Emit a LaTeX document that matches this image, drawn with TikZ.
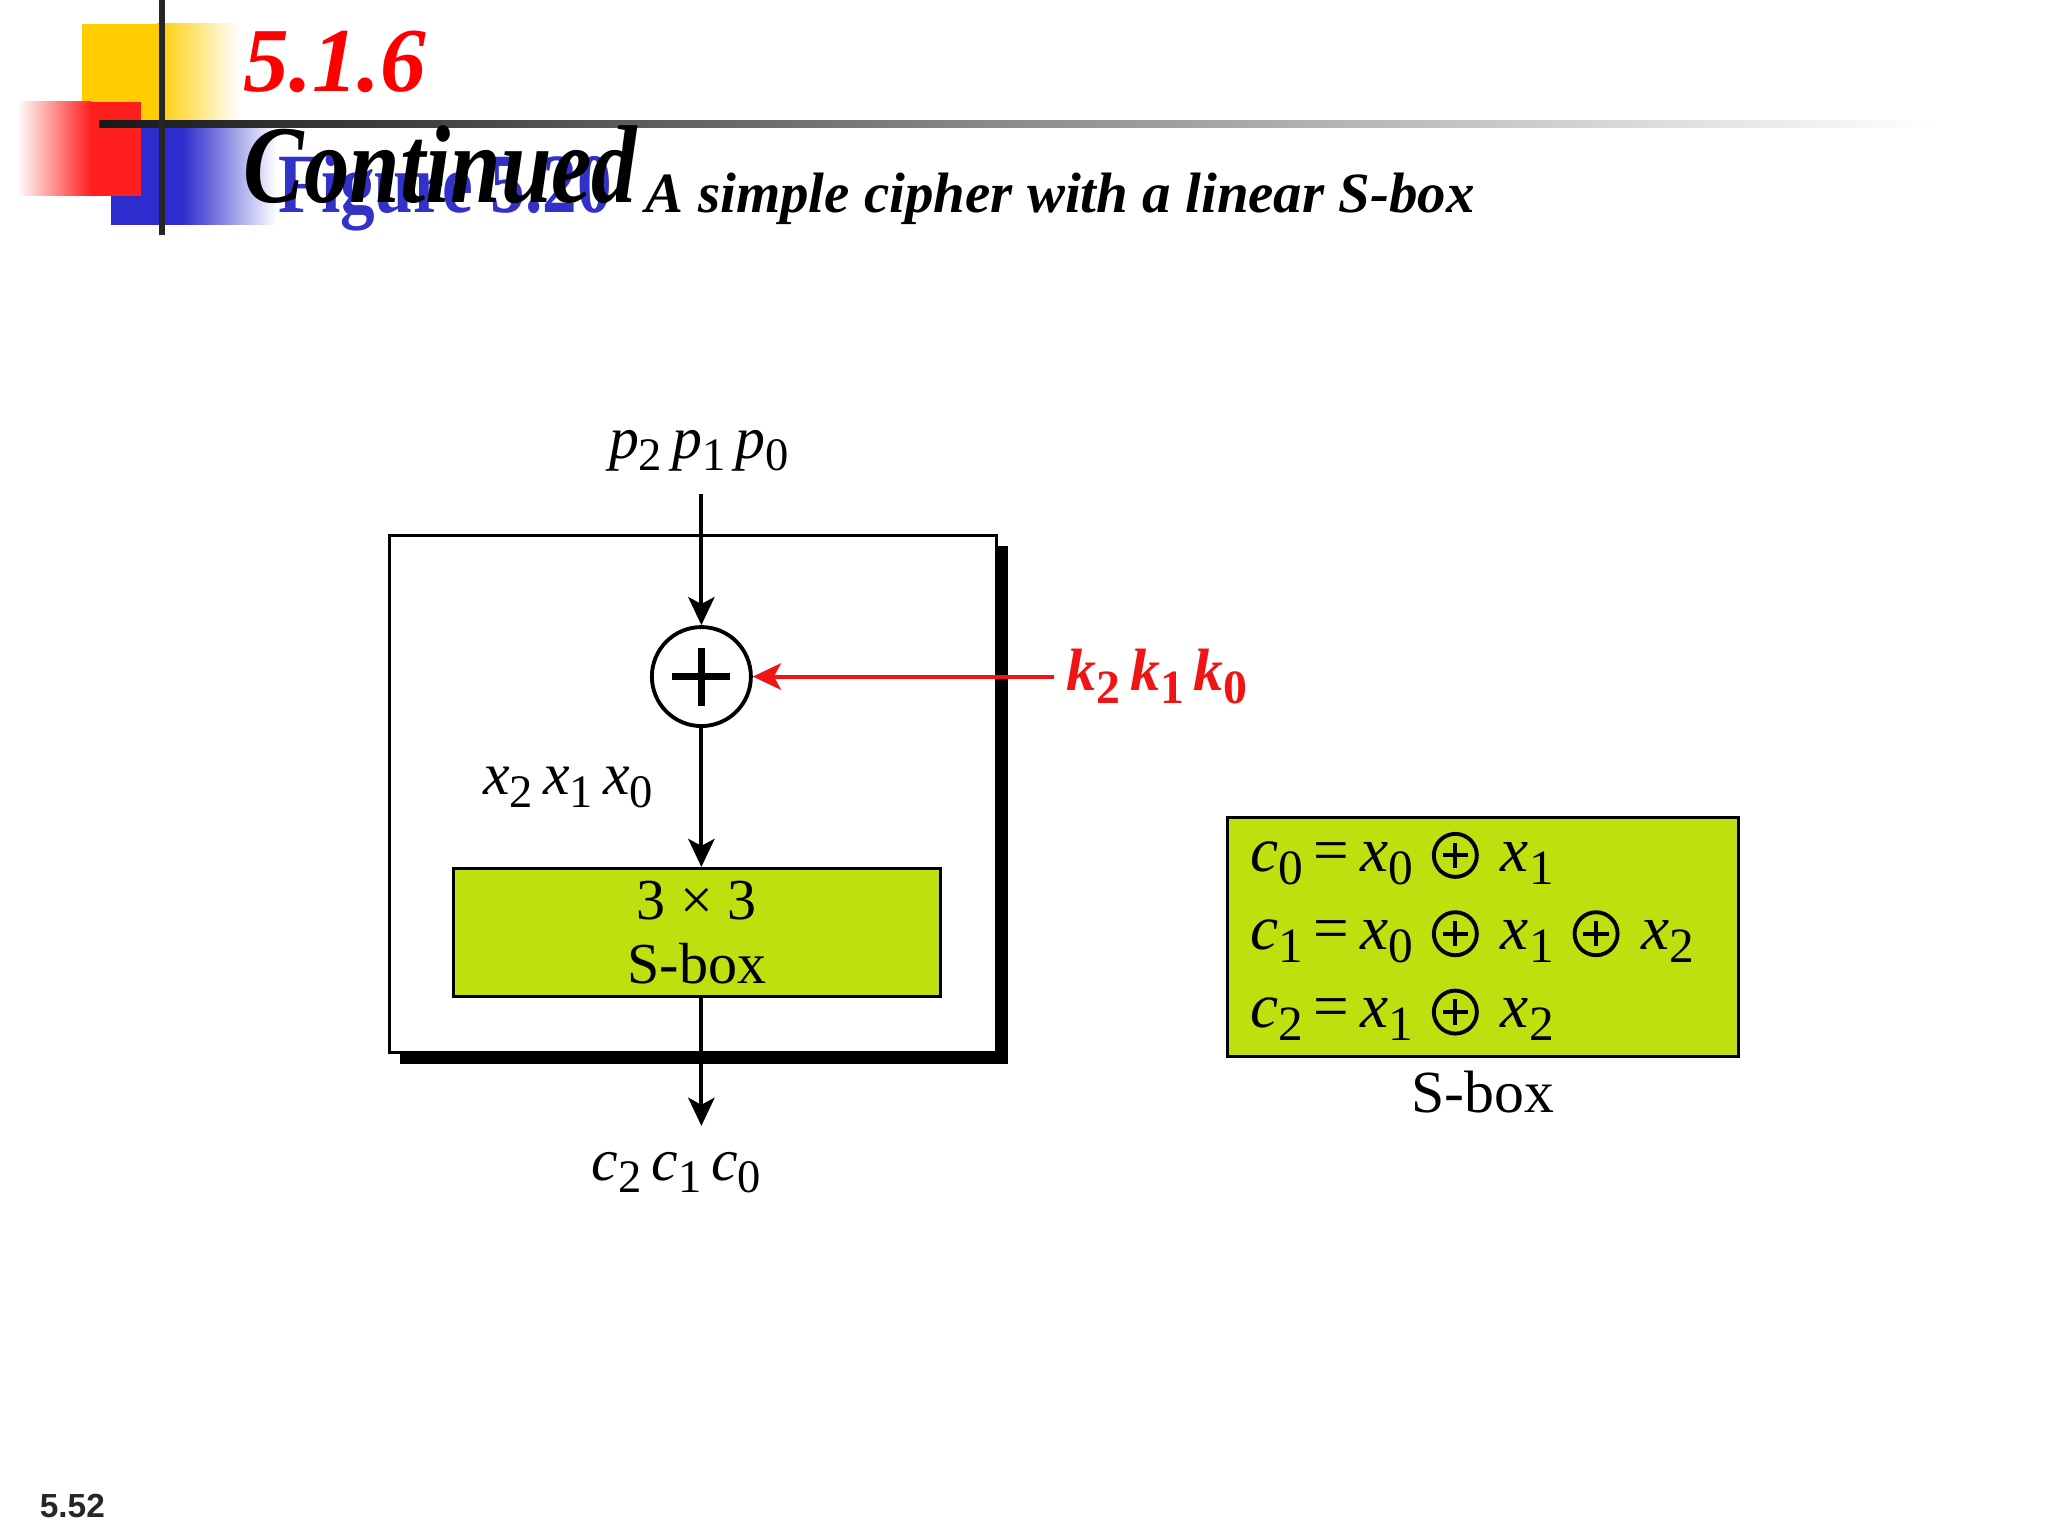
\documentclass[tikz,border=0pt]{standalone}
\usepackage{fontspec}
\usepackage{graphicx}
\setmainfont{Liberation Serif}
\newfontfamily\sansbold{Liberation Sans}
\newfontfamily\narrowserif[FakeStretch=0.82]{Liberation Serif}
\usetikzlibrary{arrows.meta}
\usetikzlibrary{positioning}

\definecolor{sboxlime}{RGB}{190,224,14}
\definecolor{keyred}{RGB}{240,20,20}
\definecolor{figblue}{RGB}{50,50,200}
\definecolor{sqyellow}{RGB}{255,204,0}
\definecolor{sqred}{RGB}{255,30,30}
\definecolor{sqblue}{RGB}{45,45,205}

\newcommand{\bit}[2]{\textit{#1}\raisebox{-0.45ex}{\scalebox{0.78}{#2}}}
\newcommand{\kbit}[2]{\textbf{\textit{#1}\raisebox{-0.45ex}{\scalebox{0.8}{#2}}}}
\newcommand{\oplusmark}{\hspace{0.3em}\tikz[baseline=-0.25em]{%
    \draw[line width=1.1pt] (0pt,0pt) circle (0.34em);
    \draw[line width=1.1pt] (-0.2em,0pt) -- (0.2em,0pt) (0pt,-0.2em) -- (0pt,0.2em);}\hspace{0.35em}}

\begin{document}
\begin{tikzpicture}[x=0.013061cm, y=-0.013061cm,
    every node/.style={font=\fontsize{17}{18}\selectfont},
    title/.style={anchor=base west, inner sep=0pt},
    flow/.style={line width=1.1pt, -{Stealth[length=8pt, width=7.5pt, inset=2pt]}},
    lime box/.style={draw, line width=0.9pt, fill=sboxlime},
    xor/.style={draw, circle, line width=1.1pt, minimum size=0.99cm, fill=white},
    eqline/.style={anchor=base west, inner sep=0pt, font=\fontsize{18}{20}\selectfont}]

    \fill[white] (0,0) rectangle (1568,1176);
    \useasboundingbox (0,0) rectangle (1568,1176);

    % corner squares
    \fill[sqyellow] (63,18) rectangle (120,95);
    \shade[left color=sqyellow, right color=white] (120,18) rectangle (183,95);
    \fill[sqblue] (85,95) rectangle (140,172);
    \shade[left color=sqblue, right color=white] (140,95) rectangle (212,172);
    \shade[left color=white, right color=sqred] (13,78) rectangle (70,150);
    \fill[sqred] (70,78) rectangle (108,150);
    \shade[left color=black!90, right color=white] (76,92) rectangle (1480,98);
    \draw[line width=1.5pt, black!85] (124,0) -- (124,180);

    % headings
    \node[title, text=red, font=\fontsize{26}{30}\selectfont\bfseries\itshape] (secnum) at (186,70) {5.1.6};
    \node[title, text=figblue, font=\narrowserif\fontsize{24}{28}\selectfont\bfseries] (fignum) at (213,163) {Figure 5.20};
    \node[title, font=\narrowserif\fontsize{31.5}{34}\selectfont\bfseries\itshape] (cont) at (186,155) {Continued};
    \node[title, font=\fontsize{16.2}{20}\selectfont\bfseries\itshape] (figcap) at (494,163) {A simple cipher with a linear S-box};

    % cipher frame with shadow
    \fill (306,418) rectangle (772,815);
    \draw[line width=0.9pt, fill=white] (298,410) rectangle (763,806);

    \node (plain) at (535,345) {\bit{p}{2}\,\bit{p}{1}\,\bit{p}{0}};
    \node[xor] (xor) at (537,518) {};
    \draw[line width=1.8pt] ([xshift=-0.29cm]xor.center) -- ([xshift=0.29cm]xor.center)
        ([yshift=-0.29cm]xor.center) -- ([yshift=0.29cm]xor.center);
    \node[anchor=west, text=keyred] (key) at (807,518) {\kbit{k}{2}\,\kbit{k}{1}\,\kbit{k}{0}};
    \node (mid) at (435,603) {\bit{x}{2}\,\bit{x}{1}\,\bit{x}{0}};
    \node[lime box, minimum width=4.872cm, minimum height=1.280cm, align=center,
        font=\fontsize{16.5}{18}\selectfont] (sbox) at (533.5,714) {3 × 3\\S-box};
    \node (cipher) at (518,898) {\bit{c}{2}\,\bit{c}{1}\,\bit{c}{0}};
    \coordinate (out) at (537,862);

    \draw[flow, shorten <=3pt] (plain.south -| xor) -- (xor.north);
    \draw[flow, keyred] (key.west) -- (xor.east);
    \draw[flow] (xor.south) -- (xor |- sbox.north);
    \draw[flow] (xor |- sbox.south) -- (out);

    % S-box table
    \node[lime box, minimum width=5.107cm, minimum height=2.390cm] (table) at (1135.5,717.5) {};
    \node[below=0pt of table] (tablecap) {S-box};
    \node[eqline] (eq0) at (957,667) {\bit{c}{0}\,=\,\bit{x}{0}\oplusmark\bit{x}{1}};
    \node[eqline] (eq1) at (957,727) {\bit{c}{1}\,=\,\bit{x}{0}\oplusmark\bit{x}{1}\oplusmark\bit{x}{2}};
    \node[eqline] (eq2) at (957,787) {\bit{c}{2}\,=\,\bit{x}{1}\oplusmark\bit{x}{2}};

    \node[title, text=black!85, font=\sansbold\fontsize{9.5}{10}\selectfont\bfseries] (pagenum) at (30,1162) {5.52};
\end{tikzpicture}
\end{document}
